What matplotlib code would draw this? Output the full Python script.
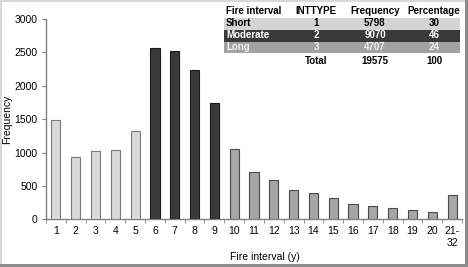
import matplotlib
matplotlib.use("Agg")
import matplotlib.pyplot as plt
from matplotlib.patches import Rectangle

plt.rcParams['font.family'] = ['Liberation Sans', 'DejaVu Sans']

categories = ['1', '2', '3', '4', '5', '6', '7', '8', '9', '10', '11', '12',
              '13', '14', '15', '16', '17', '18', '19', '20', '21-\n32']
frequency = [1480, 930, 1020, 1040, 1330, 2565, 2525, 2240, 1740, 1060, 710, 590,
             440, 395, 320, 225, 200, 165, 140, 110, 365]
int_type = [1, 1, 1, 1, 1, 2, 2, 2, 2, 3, 3, 3, 3, 3, 3, 3, 3, 3, 3, 3, 3]

table_header = ['Fire interval', 'INTTYPE', 'Frequency', 'Percentage']
table_names = ['Short', 'Moderate', 'Long']
table_types = ['1', '2', '3']
table_freq = ['5798', '9070', '4707']
table_pct = ['30', '46', '24']
total_freq = '19575'
total_pct = '100'

W, H = 468, 267
fig = plt.figure(figsize=(W / 100, H / 100), dpi=100)
fig.patch.set_facecolor('white')
fig.patch.set_edgecolor('#d8d8d8')
fig.patch.set_linewidth(1.5)

def fx(px):
    return px / W

def fy(py):
    return 1 - py / H

# figure frame shadow (bottom and right)
fig.patches.append(Rectangle((0, 0), 1, fy(264), transform=fig.transFigure,
                             facecolor='#8c8c8c', edgecolor='none', zorder=1))
fig.patches.append(Rectangle((fx(465), 0), 1 - fx(465), 1, transform=fig.transFigure,
                             facecolor='#8c8c8c', edgecolor='none', zorder=1))

ax = fig.add_axes([fx(46), fy(219.3), fx(462) - fx(46), fy(19) - fy(219.3)])
ax.patch.set_alpha(0)

face = {1: '#dadada', 2: '#3a3a3a', 3: '#a6a6a6'}
edge = {1: '#7a7a7a', 2: '#1a1a1a', 3: '#4a4a4a'}
x = list(range(len(categories)))
ax.bar(x, frequency, width=0.46,
       color=[face[t] for t in int_type],
       edgecolor=[edge[t] for t in int_type], linewidth=0.8, zorder=3)

ax.set_xlim(-0.5, len(categories) - 0.5)
ax.set_ylim(0, 3000)
ax.set_yticks(range(0, 3001, 500))
ax.set_xticks(x)
ax.set_xticklabels(categories, fontsize=7.5)
ax.set_xticks([i - 0.5 for i in range(len(categories) + 1)], minor=True)
ax.tick_params(axis='x', which='major', length=0, pad=5)
ax.tick_params(axis='x', which='minor', length=3, color='#808080', direction='out')
ax.tick_params(axis='y', length=3, color='#808080', direction='out', labelsize=7.5, pad=3)
for s in ['top', 'right']:
    ax.spines[s].set_visible(False)
for s in ['left', 'bottom']:
    ax.spines[s].set_color('#808080')
    ax.spines[s].set_linewidth(1)
ax.set_ylabel('Frequency', fontsize=7.5)
ax.yaxis.set_label_coords((12 - 46) / (462 - 46), 0.5)
ax.set_xlabel('Fire interval (y)', fontsize=7.5)
ax.xaxis.set_label_coords((265 - 46) / (462 - 46), -(252 - 219.3) / 200.3)

# summary table
row_bg = ['#d4d4d4', '#3a3a3a', '#a2a2a2']
row_fg = ['black', 'white', '#f0f0f0']
col_x = [226, 316, 375, 434]
row_y = [11, 23.5, 35.5, 47.5, 60.5]
for i in range(3):
    top = row_y[i + 1] - 6
    fig.patches.append(Rectangle((fx(224), fy(top + 12)), fx(460) - fx(224), fy(top) - fy(top + 12),
                                 transform=fig.transFigure, facecolor=row_bg[i],
                                 edgecolor='none', zorder=2))
tk = dict(fontsize=7, fontweight='bold', va='center', zorder=5)
fig.text(fx(col_x[0]), fy(row_y[0]), table_header[0], ha='left', **tk)
for j in range(1, 4):
    fig.text(fx(col_x[j]), fy(row_y[0]), table_header[j], ha='center', **tk)
for i in range(3):
    c = row_fg[i]
    fig.text(fx(col_x[0]), fy(row_y[i + 1]), table_names[i], ha='left', color=c, **tk)
    fig.text(fx(col_x[1]), fy(row_y[i + 1]), table_types[i], ha='center', color=c, **tk)
    fig.text(fx(col_x[2]), fy(row_y[i + 1]), table_freq[i], ha='center', color=c, **tk)
    fig.text(fx(col_x[3]), fy(row_y[i + 1]), table_pct[i], ha='center', color=c, **tk)
fig.text(fx(col_x[1]), fy(row_y[4]), 'Total', ha='center', **tk)
fig.text(fx(col_x[2]), fy(row_y[4]), total_freq, ha='center', **tk)
fig.text(fx(col_x[3]), fy(row_y[4]), total_pct, ha='center', **tk)

fig.savefig('out.png', dpi=100)
